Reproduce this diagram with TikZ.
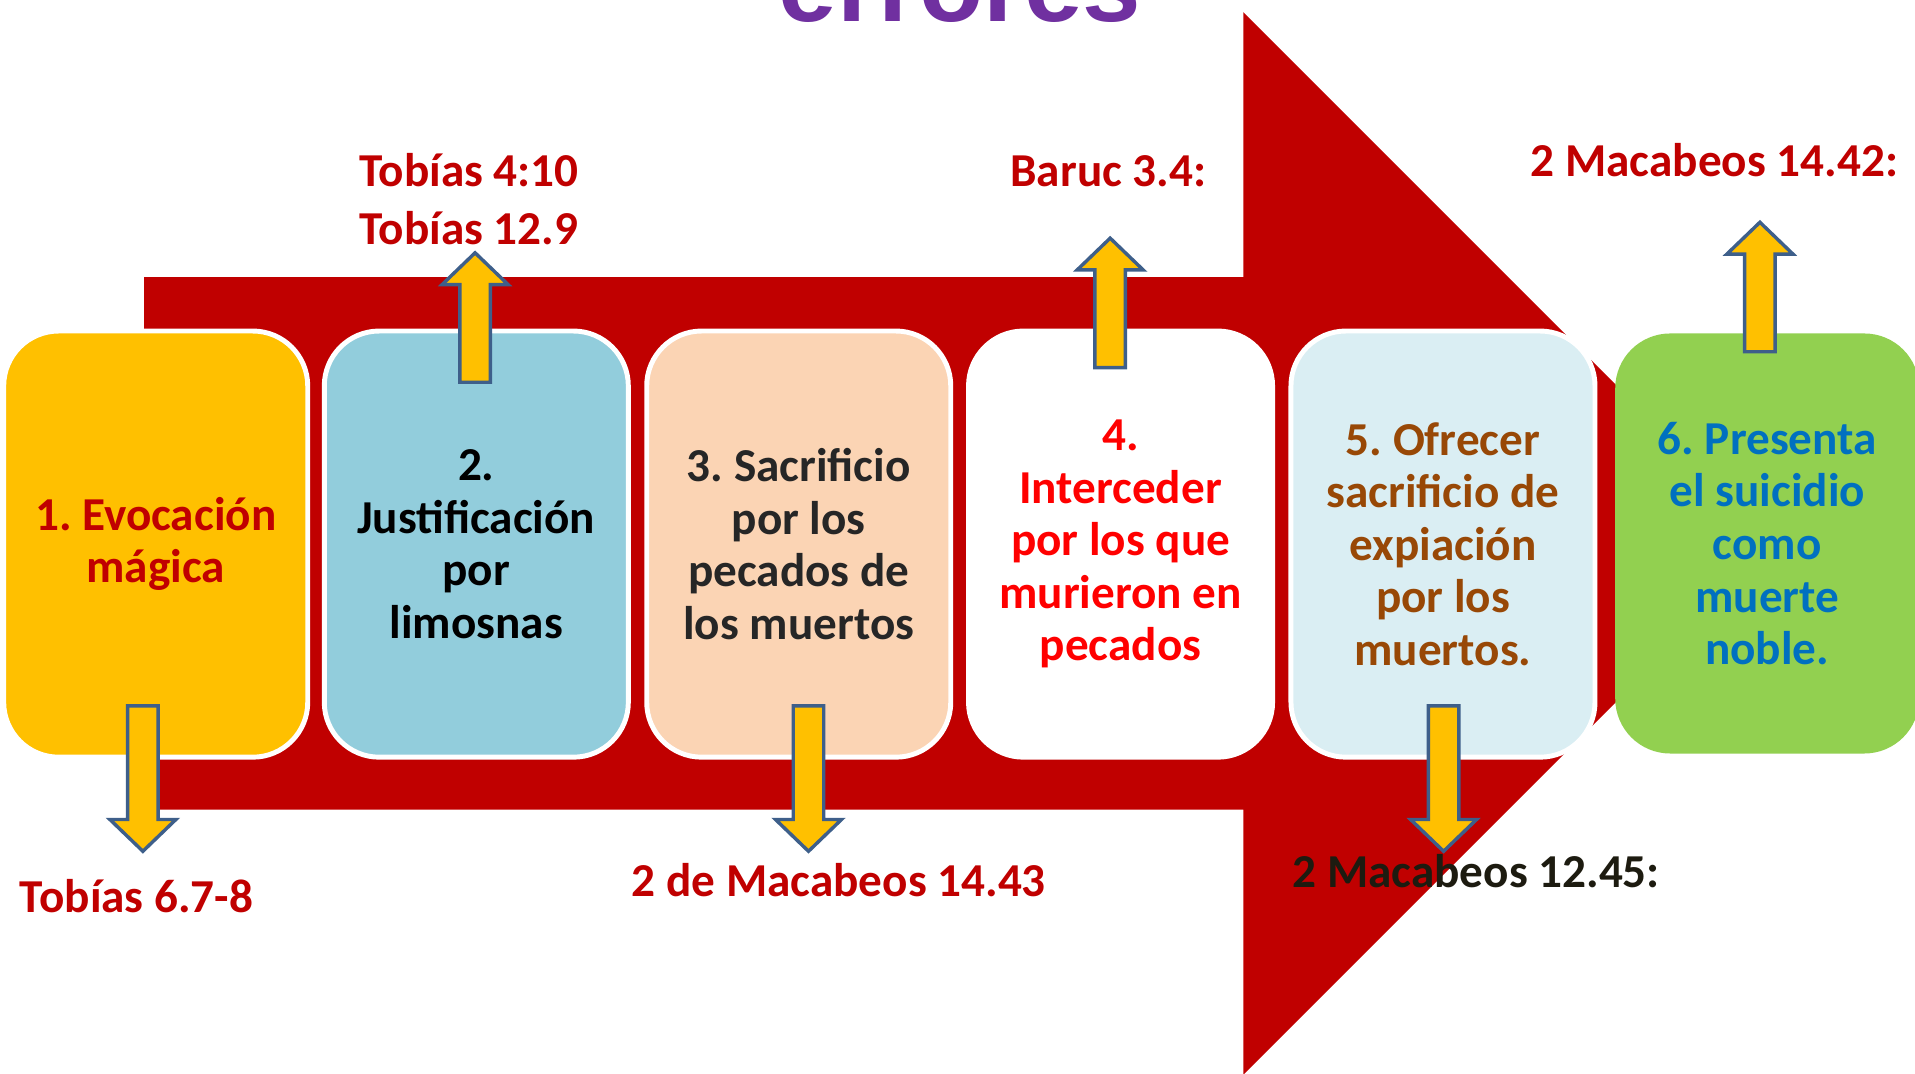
\documentclass[tikz,border=0pt]{standalone}
\usepackage{fontspec}
\setmainfont{Carlito}
\newfontfamily\titlefont{Liberation Sans}
\usepackage{tikz}
\frenchspacing
\definecolor{bigred}{HTML}{C00000}
\definecolor{hackgold}{HTML}{FFC000}
\definecolor{edgeblue}{HTML}{3E5F8A}
\definecolor{titlepurple}{HTML}{7030A0}
\definecolor{boxblue}{HTML}{92CDDC}
\definecolor{boxpeach}{HTML}{FBD4B4}
\definecolor{boxice}{HTML}{DAEEF3}
\definecolor{boxgreen}{HTML}{92D050}
\definecolor{textred}{HTML}{FF0000}
\definecolor{textbrown}{HTML}{984806}
\definecolor{textblue}{HTML}{0070C0}
\definecolor{textdark}{HTML}{1D1B10}

\begin{document}
\begin{tikzpicture}[
  x=0.02cm, y=-0.02cm,
  stepbox/.style={rounded corners=0.9cm, minimum width=4.98cm, minimum height=6.98cm,
                  align=center, inner sep=0pt, font=\fontsize{22}{24.5}\selectfont\bfseries},
  framed/.style={draw=white, line width=2.3pt},
  blockarrow/.style={fill=hackgold, draw=edgeblue, line width=1.6pt, line join=miter},
  ref/.style={inner sep=0pt, text=bigred, font=\fontsize{22}{26.8}\selectfont\bfseries}
]
  \clip (0,0) rectangle (1568,879);

  % Title (cut off by the top edge)
  \node[anchor=base, inner sep=0pt, text=titlepurple,
        font=\titlefont\bfseries\fontsize{49}{49}\selectfont] (title) at (786,18) {errores};

  % Big red arrow behind the steps
  \fill[bigred] (118,227) -- (1018,227) -- (1018,10) -- (1453,445)
     -- (1018,880) -- (1018,663) -- (118,663) -- cycle;

  % Steps
  \node[stepbox, framed, fill=hackgold, text=bigred] (evoc) at (127.5,445.5) {1. Evocación\\mágica};
  \node[stepbox, framed, fill=boxblue, text=black] (limo) at (390,445.5) {2.\\Justificación\\por\\limosnas};
  \node[stepbox, framed, fill=boxpeach, text=black!85] (sacr) at (654,445.5) {3. Sacrificio\\por los\\pecados de\\los muertos};
  \node[stepbox, framed, fill=white, text=textred] (inter) at (917.5,445.5) {4.\\Interceder\\por los que\\murieron en\\pecados};
  \node[stepbox, framed, fill=boxice, text=textbrown] (expi) at (1181.5,445.5) {5. Ofrecer\\sacrificio de\\expiación\\por los\\muertos.};
  \node[stepbox, fill=boxgreen, text=textblue, minimum height=6.88cm] (suic) at (1447,445) {6. Presenta\\el suicidio\\como\\muerte\\noble.};

  % Up arrows
  \draw[blockarrow] (389,207) -- ++(27,26) -- ++(-14.5,0) -- ++(0,80) -- ++(-25,0) -- ++(0,-80) -- ++(-14.5,0) -- cycle;
  \draw[blockarrow] (909,195) -- ++(27,26) -- ++(-14.5,0) -- ++(0,80) -- ++(-25,0) -- ++(0,-80) -- ++(-14.5,0) -- cycle;
  \draw[blockarrow] (1441,182) -- ++(27,26) -- ++(-14.5,0) -- ++(0,80) -- ++(-25,0) -- ++(0,-80) -- ++(-14.5,0) -- cycle;

  % Down arrows
  \draw[blockarrow] (117,697) -- ++(27,-26) -- ++(-14.5,0) -- ++(0,-93) -- ++(-25,0) -- ++(0,93) -- ++(-14.5,0) -- cycle;
  \draw[blockarrow] (662,697) -- ++(27,-26) -- ++(-14.5,0) -- ++(0,-93) -- ++(-25,0) -- ++(0,93) -- ++(-14.5,0) -- cycle;
  \draw[blockarrow] (1182,697) -- ++(27,-26) -- ++(-14.5,0) -- ++(0,-93) -- ++(-25,0) -- ++(0,93) -- ++(-14.5,0) -- cycle;

  % References
  \node[ref, anchor=west, align=left] (tob1) at (294,163) {Tobías 4:10\\Tobías 12.9};
  \node[ref, anchor=base west] (bar) at (827,152.5) {Baruc 3.4:};
  \node[ref, anchor=base west] (mac1) at (1253,144.5) {2 Macabeos 14.42:};
  \node[ref, anchor=base west] (tob2) at (16,747) {Tobías 6.7-8};
  \node[ref, anchor=base west] (mac2) at (517,734) {2 de Macabeos 14.43};
  \node[ref, anchor=base west, text=textdark] (mac3) at (1058,727) {2 Macabeos 12.45:};
\end{tikzpicture}
\end{document}
